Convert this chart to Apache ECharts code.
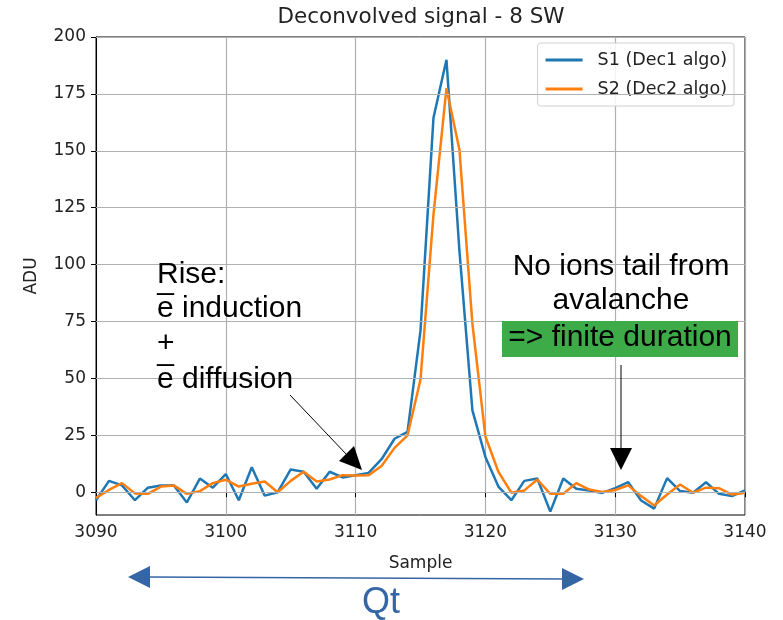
<!DOCTYPE html>
<html>
<head>
<meta charset="utf-8">
<script src="https://cdn.jsdelivr.net/npm/echarts@6/dist/echarts.min.js"></script>
<style>
  html, body { margin: 0; padding: 0; background: #fff; }
  #chart { width: 783px; height: 620px; }
</style>
</head>
<body>
<div id="chart"></div>
<script>
// valeurs
const samples = [];
for (let s = 3090; s <= 3140; s++) samples.push(s);

const s1 = [-3.5, 5, 3, -3.5, 2, 3, 3, -4.5, 6, 2,
  8, -3.5, 11, -1.5, 0, 10, 9, 1.5, 9, 6.5,
  7.5, 8.5, 14.5, 23.5, 26.5, 71, 164.5, 190, 106, 36,
  15.5, 2.5, -3.5, 5, 6, -8.5, 6, 1.5, 0.8, -0.3,
  1.8, 4.4, -3.6, -7.2, 6.2, 0.5, -0.2, 4.4, -0.7, -1.7,
  0.8];

const s2 = [-2.5, 1, 4, -0.5, -0.7, 2.5, 3, -0.7, 0.5, 4,
  5.5, 2.5, 3.7, 4.7, 0, 5, 9, 4.7, 5.6, 7.5,
  7.3, 7.5, 11.5, 19.5, 25, 49.5, 122, 177.5, 150.5, 74,
  24.5, 9, -0.2, 0.8, 5.6, -0.7, -0.7, 4, 1.2, 0.1,
  1, 3, -1.7, -5.8, -1, 3.4, -0.2, 2, 1.8, -1,
  -0.2];

const yTicks = [0, 25, 50, 75, 100, 125, 150, 175, 200];
const seriesNames = ['S1 (Dec1 algo)', 'S2 (Dec2 algo)'];

const chart = echarts.init(document.getElementById('chart'));
const axisFont = 'DejaVu Sans';
const noteFont = '"Liberation Sans", Arial, sans-serif';

const option = {
  animation: false,
  grid: { left: 96, right: 38, top: 37, bottom: 105, show: true, borderColor: '#000', borderWidth: 1 },
  legend: {
    data: seriesNames,
    orient: 'vertical',
    right: 49, top: 43,
    padding: [8, 7, 8, 8],
    itemGap: 11,
    itemWidth: 37, itemHeight: 3,
    icon: 'rect',
    backgroundColor: 'rgba(255,255,255,0.85)',
    borderColor: '#d0d0d0', borderWidth: 1, borderRadius: 3,
    textStyle: { fontFamily: axisFont, fontSize: 17.5, color: '#222', padding: [0, 0, 0, 10] }
  },
  xAxis: {
    type: 'value', min: 3090, max: 3140, interval: 10,
    name: 'Sample', nameLocation: 'middle', nameGap: 40,
    nameTextStyle: { fontFamily: axisFont, fontSize: 17, color: '#222' },
    axisLine: { lineStyle: { color: '#000' } },
    axisTick: { show: true, length: 5, lineStyle: { color: '#000' } },
    axisLabel: { fontFamily: axisFont, fontSize: 17, color: '#222', margin: 9, formatter: v => String(v) },
    splitLine: { show: true, lineStyle: { color: '#b0b0b0', width: 1.2 } }
  },
  yAxis: {
    type: 'value', min: -10, max: 200,
    name: 'ADU', nameLocation: 'middle', nameGap: 56,
    nameTextStyle: { fontFamily: axisFont, fontSize: 17, color: '#222' },
    axisLine: { show: true, lineStyle: { color: '#000' } },
    axisTick: { show: true, length: 5, customValues: yTicks, lineStyle: { color: '#000' } },
    axisLabel: { fontFamily: axisFont, fontSize: 17, color: '#222', margin: 10, customValues: yTicks, formatter: v => String(v) },
    splitLine: { show: false }
  },
  series: [
    {
      // lignes de grille horizontales
      name: 'grid', type: 'line', data: [], z: 1, silent: true,
      markLine: {
        silent: true, symbol: 'none', animation: false,
        label: { show: false },
        lineStyle: { color: '#b0b0b0', width: 1.2, type: 'solid' },
        data: yTicks.map(v => ({ yAxis: v }))
      }
    },
    {
      name: seriesNames[0], type: 'line', z: 3,
      data: samples.map((x, i) => [x, s1[i]]),
      showSymbol: false, symbol: 'none',
      lineStyle: { color: '#1f77b4', width: 2.5 }, itemStyle: { color: '#1f77b4' }
    },
    {
      name: seriesNames[1], type: 'line', z: 4,
      data: samples.map((x, i) => [x, s2[i]]),
      showSymbol: false, symbol: 'none',
      lineStyle: { color: '#ff7f0e', width: 2.5 }, itemStyle: { color: '#ff7f0e' }
    }
  ],
  graphic: [
    { type: 'text', z: 10, style: { text: 'Deconvolved signal - 8 SW', x: 421, y: 17, textAlign: 'center', textVerticalAlign: 'middle', font: '21.5px "DejaVu Sans"', fill: '#222' } },

    { type: 'text', z: 10, style: { text: 'Rise:', x: 157, y: 275, textVerticalAlign: 'middle', font: '30px ' + noteFont, fill: '#000' } },
    { type: 'text', z: 10, style: { text: 'e\u0305 induction', x: 157, y: 309, textVerticalAlign: 'middle', font: '30px ' + noteFont, fill: '#000' } },
    { type: 'text', z: 10, style: { text: '+', x: 157, y: 344, textVerticalAlign: 'middle', font: '30px ' + noteFont, fill: '#000' } },
    { type: 'text', z: 10, style: { text: 'e\u0305 diffusion', x: 157, y: 380, textVerticalAlign: 'middle', font: '30px ' + noteFont, fill: '#000' } },

    { type: 'text', z: 10, style: { text: 'No ions tail from', x: 621, y: 267, textAlign: 'center', textVerticalAlign: 'middle', font: '30px ' + noteFont, fill: '#000' } },
    { type: 'text', z: 10, style: { text: 'avalanche', x: 621, y: 301, textAlign: 'center', textVerticalAlign: 'middle', font: '30px ' + noteFont, fill: '#000' } },
    { type: 'rect', z: 9, shape: { x: 502, y: 321, width: 236, height: 36 }, style: { fill: '#3dab48' } },
    { type: 'text', z: 10, style: { text: '=> finite duration', x: 620, y: 338, textAlign: 'center', textVerticalAlign: 'middle', font: '30px ' + noteFont, fill: '#000' } },

    // fleche "rise"
    { type: 'line', z: 10, shape: { x1: 290, y1: 395, x2: 347, y2: 455 }, style: { stroke: '#000', lineWidth: 1 } },
    { type: 'polygon', z: 10, shape: { points: [[362, 470], [339, 461], [354, 446]] }, style: { fill: '#000' } },
    // fleche verticale
    { type: 'line', z: 10, shape: { x1: 621, y1: 365, x2: 621, y2: 449 }, style: { stroke: '#000', lineWidth: 1 } },
    { type: 'polygon', z: 10, shape: { points: [[621, 470], [610, 448], [632, 448]] }, style: { fill: '#000' } },

    // fleche Qt
    { type: 'line', z: 10, shape: { x1: 148, y1: 577, x2: 564, y2: 579 }, style: { stroke: '#3465a4', lineWidth: 1.5 } },
    { type: 'polygon', z: 10, shape: { points: [[128, 577], [150, 566], [150, 588]] }, style: { fill: '#3465a4' } },
    { type: 'polygon', z: 10, shape: { points: [[584, 579], [562, 568], [562, 590]] }, style: { fill: '#3465a4' } },
    { type: 'text', z: 10, style: { text: 'Qt', x: 381, y: 603, textAlign: 'center', textVerticalAlign: 'middle', font: '36px ' + noteFont, fill: '#3465a4' } }
  ]
};

chart.setOption(option);

window.addEventListener('resize', () => chart.resize());
</script>
</body>
</html>
